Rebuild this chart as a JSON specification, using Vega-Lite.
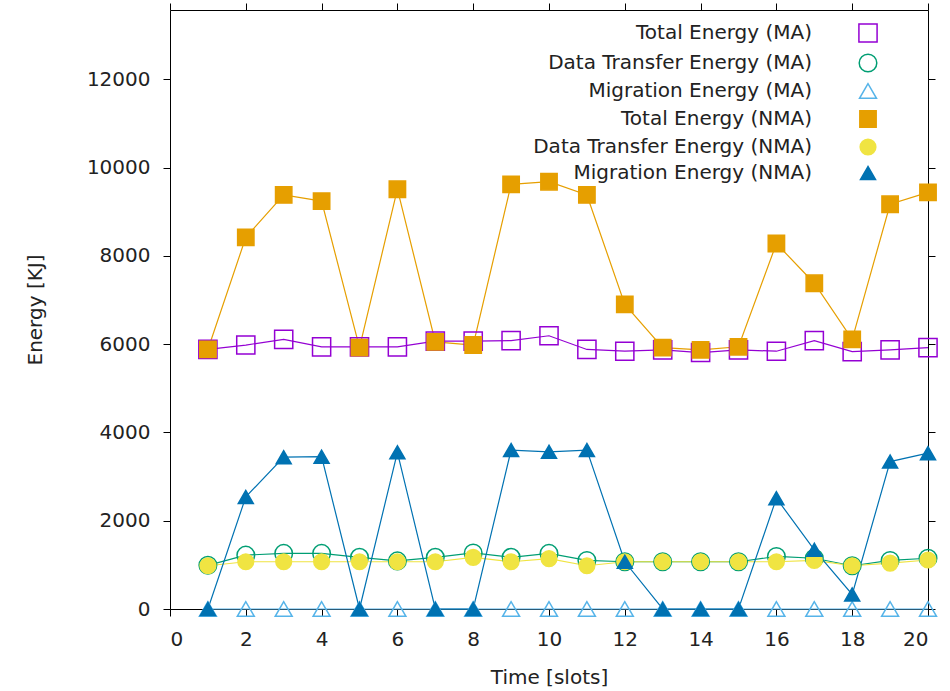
{
  "$schema": "https://vega.github.io/schema/vega-lite/v6.json",
  "width": 758,
  "height": 599,
  "autosize": {"type": "none"},
  "padding": {"left": 170, "top": 10, "right": 22, "bottom": 82},
  "background": "white",
  "config": {
    "view": {"stroke": "#000", "strokeWidth": 1},
    "font": "DejaVu Sans",
    "axis": {
      "grid": false,
      "domain": false,
      "ticks": true,
      "tickColor": "#000",
      "tickSize": 7,
      "tickWidth": 1,
      "labelFont": "DejaVu Sans",
      "labelFontSize": 20,
      "labelColor": "#222",
      "titleFont": "DejaVu Sans",
      "titleFontSize": 20,
      "titleFontWeight": "normal",
      "titleColor": "#222"
    },
    "legend": {
      "orient": "none", "legendX": 688, "legendY": 13, "title": null, "padding": 0,
      "labelAlign": "right", "labelOffset": -66, "labelFontSize": 20, "labelColor": "#222",
      "labelFont": "DejaVu Sans", "labelLimit": 400, "rowPadding": 5, "symbolStrokeWidth": 1.5
    }
  },
  "data": {"values": [
    {"s":"Total Energy (MA)","x":1,"y":5880},{"s":"Total Energy (MA)","x":2,"y":5980},{"s":"Total Energy (MA)","x":3,"y":6110},{"s":"Total Energy (MA)","x":4,"y":5940},{"s":"Total Energy (MA)","x":5,"y":5940},{"s":"Total Energy (MA)","x":6,"y":5940},{"s":"Total Energy (MA)","x":7,"y":6070},{"s":"Total Energy (MA)","x":8,"y":6070},{"s":"Total Energy (MA)","x":9,"y":6080},{"s":"Total Energy (MA)","x":10,"y":6190},{"s":"Total Energy (MA)","x":11,"y":5880},{"s":"Total Energy (MA)","x":12,"y":5840},{"s":"Total Energy (MA)","x":13,"y":5870},{"s":"Total Energy (MA)","x":14,"y":5810},{"s":"Total Energy (MA)","x":15,"y":5870},{"s":"Total Energy (MA)","x":16,"y":5840},{"s":"Total Energy (MA)","x":17,"y":6080},{"s":"Total Energy (MA)","x":18,"y":5830},{"s":"Total Energy (MA)","x":19,"y":5870},{"s":"Total Energy (MA)","x":20,"y":5920},
    {"s":"Data Transfer Energy (MA)","x":1,"y":990},{"s":"Data Transfer Energy (MA)","x":2,"y":1220},{"s":"Data Transfer Energy (MA)","x":3,"y":1260},{"s":"Data Transfer Energy (MA)","x":4,"y":1260},{"s":"Data Transfer Energy (MA)","x":5,"y":1170},{"s":"Data Transfer Energy (MA)","x":6,"y":1090},{"s":"Data Transfer Energy (MA)","x":7,"y":1170},{"s":"Data Transfer Energy (MA)","x":8,"y":1270},{"s":"Data Transfer Energy (MA)","x":9,"y":1170},{"s":"Data Transfer Energy (MA)","x":10,"y":1260},{"s":"Data Transfer Energy (MA)","x":11,"y":1100},{"s":"Data Transfer Energy (MA)","x":12,"y":1070},{"s":"Data Transfer Energy (MA)","x":13,"y":1070},{"s":"Data Transfer Energy (MA)","x":14,"y":1070},{"s":"Data Transfer Energy (MA)","x":15,"y":1070},{"s":"Data Transfer Energy (MA)","x":16,"y":1190},{"s":"Data Transfer Energy (MA)","x":17,"y":1150},{"s":"Data Transfer Energy (MA)","x":18,"y":980},{"s":"Data Transfer Energy (MA)","x":19,"y":1100},{"s":"Data Transfer Energy (MA)","x":20,"y":1150},
    {"s":"Migration Energy (MA)","x":1,"y":0},{"s":"Migration Energy (MA)","x":2,"y":0},{"s":"Migration Energy (MA)","x":3,"y":0},{"s":"Migration Energy (MA)","x":4,"y":0},{"s":"Migration Energy (MA)","x":5,"y":0},{"s":"Migration Energy (MA)","x":6,"y":0},{"s":"Migration Energy (MA)","x":7,"y":0},{"s":"Migration Energy (MA)","x":8,"y":0},{"s":"Migration Energy (MA)","x":9,"y":0},{"s":"Migration Energy (MA)","x":10,"y":0},{"s":"Migration Energy (MA)","x":11,"y":0},{"s":"Migration Energy (MA)","x":12,"y":0},{"s":"Migration Energy (MA)","x":13,"y":0},{"s":"Migration Energy (MA)","x":14,"y":0},{"s":"Migration Energy (MA)","x":15,"y":0},{"s":"Migration Energy (MA)","x":16,"y":0},{"s":"Migration Energy (MA)","x":17,"y":0},{"s":"Migration Energy (MA)","x":18,"y":0},{"s":"Migration Energy (MA)","x":19,"y":0},{"s":"Migration Energy (MA)","x":20,"y":0},
    {"s":"Total Energy (NMA)","x":1,"y":5880},{"s":"Total Energy (NMA)","x":2,"y":8420},{"s":"Total Energy (NMA)","x":3,"y":9380},{"s":"Total Energy (NMA)","x":4,"y":9240},{"s":"Total Energy (NMA)","x":5,"y":5920},{"s":"Total Energy (NMA)","x":6,"y":9510},{"s":"Total Energy (NMA)","x":7,"y":6050},{"s":"Total Energy (NMA)","x":8,"y":5980},{"s":"Total Energy (NMA)","x":9,"y":9620},{"s":"Total Energy (NMA)","x":10,"y":9680},{"s":"Total Energy (NMA)","x":11,"y":9380},{"s":"Total Energy (NMA)","x":12,"y":6900},{"s":"Total Energy (NMA)","x":13,"y":5920},{"s":"Total Energy (NMA)","x":14,"y":5870},{"s":"Total Energy (NMA)","x":15,"y":5940},{"s":"Total Energy (NMA)","x":16,"y":8280},{"s":"Total Energy (NMA)","x":17,"y":7380},{"s":"Total Energy (NMA)","x":18,"y":6110},{"s":"Total Energy (NMA)","x":19,"y":9170},{"s":"Total Energy (NMA)","x":20,"y":9440},
    {"s":"Data Transfer Energy (NMA)","x":1,"y":980},{"s":"Data Transfer Energy (NMA)","x":2,"y":1070},{"s":"Data Transfer Energy (NMA)","x":3,"y":1070},{"s":"Data Transfer Energy (NMA)","x":4,"y":1070},{"s":"Data Transfer Energy (NMA)","x":5,"y":1070},{"s":"Data Transfer Energy (NMA)","x":6,"y":1070},{"s":"Data Transfer Energy (NMA)","x":7,"y":1070},{"s":"Data Transfer Energy (NMA)","x":8,"y":1170},{"s":"Data Transfer Energy (NMA)","x":9,"y":1070},{"s":"Data Transfer Energy (NMA)","x":10,"y":1140},{"s":"Data Transfer Energy (NMA)","x":11,"y":980},{"s":"Data Transfer Energy (NMA)","x":12,"y":1070},{"s":"Data Transfer Energy (NMA)","x":13,"y":1070},{"s":"Data Transfer Energy (NMA)","x":14,"y":1070},{"s":"Data Transfer Energy (NMA)","x":15,"y":1070},{"s":"Data Transfer Energy (NMA)","x":16,"y":1070},{"s":"Data Transfer Energy (NMA)","x":17,"y":1100},{"s":"Data Transfer Energy (NMA)","x":18,"y":980},{"s":"Data Transfer Energy (NMA)","x":19,"y":1040},{"s":"Data Transfer Energy (NMA)","x":20,"y":1110},
    {"s":"Migration Energy (NMA)","x":1,"y":0},{"s":"Migration Energy (NMA)","x":2,"y":2540},{"s":"Migration Energy (NMA)","x":3,"y":3440},{"s":"Migration Energy (NMA)","x":4,"y":3450},{"s":"Migration Energy (NMA)","x":5,"y":0},{"s":"Migration Energy (NMA)","x":6,"y":3550},{"s":"Migration Energy (NMA)","x":7,"y":0},{"s":"Migration Energy (NMA)","x":8,"y":0},{"s":"Migration Energy (NMA)","x":9,"y":3600},{"s":"Migration Energy (NMA)","x":10,"y":3560},{"s":"Migration Energy (NMA)","x":11,"y":3600},{"s":"Migration Energy (NMA)","x":12,"y":1070},{"s":"Migration Energy (NMA)","x":13,"y":0},{"s":"Migration Energy (NMA)","x":14,"y":0},{"s":"Migration Energy (NMA)","x":15,"y":0},{"s":"Migration Energy (NMA)","x":16,"y":2510},{"s":"Migration Energy (NMA)","x":17,"y":1340},{"s":"Migration Energy (NMA)","x":18,"y":330},{"s":"Migration Energy (NMA)","x":19,"y":3340},{"s":"Migration Energy (NMA)","x":20,"y":3530}
  ]},
  "layer": [
    {
      "mark": {"type": "line", "strokeWidth": 1.2},
      "encoding": {
        "x": {"field": "x", "type": "quantitative", "scale": {"domain": [0, 20], "nice": false},
              "axis": {"orient": "bottom", "values": [0,2,4,6,8,10,12,14,16,18,20], "format": "d", "title": "Time [slots]", "labelPadding": 13, "titlePadding": 18}},
        "y": {"field": "y", "type": "quantitative", "scale": {"domain": [0, 13570], "nice": false},
              "axis": {"orient": "left", "values": [0,2000,4000,6000,8000,10000,12000], "format": "d", "title": "Energy [KJ]", "labelPadding": 13, "titlePadding": 41}},
        "stroke": {"field": "s", "type": "nominal",
                   "scale": {"domain": ["Total Energy (MA)","Data Transfer Energy (MA)","Migration Energy (MA)","Total Energy (NMA)","Data Transfer Energy (NMA)","Migration Energy (NMA)"],
                             "range": ["#9400d3","#009e73","#56b4e9","#e69f00","#f0e442","#0072b2"]}},
        "detail": {"field": "s", "type": "nominal"}
      }
    },
    {
      "transform": [{"filter": "indexof(datum.s, '(MA)') >= 0"}],
      "mark": {"type": "point", "strokeWidth": 1.5, "opacity": 1},
      "encoding": {
        "x": {"field": "x", "type": "quantitative",
              "axis": {"orient": "top", "values": [0,2,4,6,8,10,12,14,16,18,20], "labels": false, "title": null}},
        "y": {"field": "y", "type": "quantitative",
              "axis": {"orient": "right", "values": [0,2000,4000,6000,8000,10000,12000], "labels": false, "title": null}},
        "stroke": {"field": "s", "type": "nominal"},
        "fill": {"field": "s", "type": "nominal",
                 "scale": {"domain": ["Total Energy (MA)","Data Transfer Energy (MA)","Migration Energy (MA)","Total Energy (NMA)","Data Transfer Energy (NMA)","Migration Energy (NMA)"],
                           "range": ["transparent","transparent","transparent","#e69f00","#f0e442","#0072b2"]}},
        "shape": {"field": "s", "type": "nominal",
                  "scale": {"domain": ["Total Energy (MA)","Data Transfer Energy (MA)","Migration Energy (MA)","Total Energy (NMA)","Data Transfer Energy (NMA)","Migration Energy (NMA)"],
                            "range": ["square","circle","triangle-up","square","circle","triangle-up"]}},
        "size": {"field": "s", "type": "nominal",
                 "scale": {"domain": ["Total Energy (MA)","Data Transfer Energy (MA)","Migration Energy (MA)","Total Energy (NMA)","Data Transfer Energy (NMA)","Migration Energy (NMA)"],
                           "range": [330, 225, 500, 360, 256, 540]}}
      }
    },
    {
      "transform": [{"filter": "indexof(datum.s, '(NMA)') >= 0"}],
      "mark": {"type": "point", "strokeWidth": 1.5, "opacity": 1},
      "encoding": {
        "x": {"field": "x", "type": "quantitative", "axis": null},
        "y": {"field": "y", "type": "quantitative", "axis": null},
        "stroke": {"field": "s", "type": "nominal"},
        "fill": {"field": "s", "type": "nominal"},
        "shape": {"field": "s", "type": "nominal"},
        "size": {"field": "s", "type": "nominal"}
      }
    }
  ],
  "resolve": {"axis": {"x": "independent", "y": "independent"}}
}
